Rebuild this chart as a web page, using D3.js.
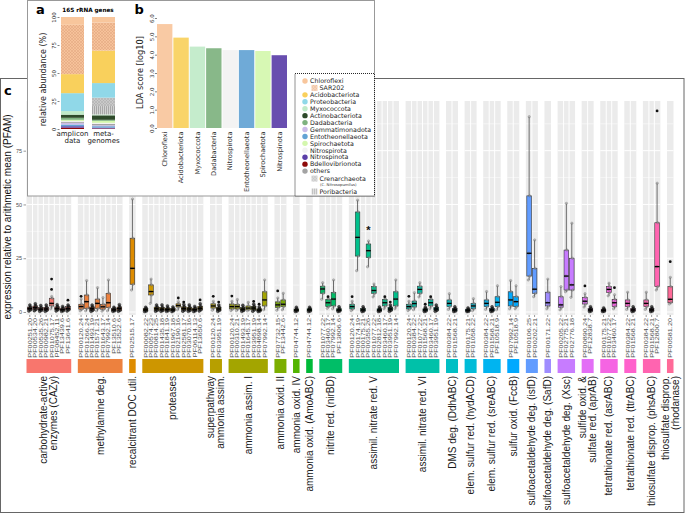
<!DOCTYPE html>
<html><head><meta charset="utf-8">
<script src="https://cdn.jsdelivr.net/npm/d3@7"></script>
<style>body{margin:0;background:#fff;} svg{display:block;}</style>
</head><body>
<svg id="chart" width="685" height="515"></svg>
<script>
// ---------------- DATA ----------------
// Panel a: stacked relative abundance (%) bottom -> top
const taxaOrder = ["Bdellovibrionota","Nitrospinota","Entotheonellaeota","Gemmatimonadota","others","Nitrospirota","Spirochaetota","Dadabacteria","Actinobacteriota","Myxococcota","Poribacteria","Crenarchaeota","Proteobacteria","Acidobacteriota","SAR202","Chloroflexi"];
const samples = ["amplicon","metagenomes"];
const ampliconPct   = [1.2,1.3,1.5,1.5,1.0,0.7,1.0,1.8,2.8,3.2,0,0,16,17,44,7];
const metagenomePct = [0.5,0.7,1.3,0.8,1.2,1.0,1.8,0.9,4.0,0.8,7.5,7.5,13,29,25,5];
const abundTicks = [0,25,50,75,100];

// Panel b: LDA scores
const ldaTaxa   = ["Chloroflexi","Acidobacteriota","Myxococcota","Dadabacteria","Nitrospirota","Entotheonellaeota","Spirochaetota","Nitrospinota"];
const ldaScores = [5.67,4.93,4.44,4.35,4.25,4.25,4.2,3.97];
const ldaTicks  = [0,1,2,3,4,5,6];

const legendTaxa = ["Chloroflexi","SAR202","Acidobacteriota","Proteobacteria","Myxococcota","Actinobacteriota","Dadabacteria","Gemmatimonadota","Entotheonellaeota","Spirochaetota","Nitrospirota","Nitrospinota","Bdellovibrionota","others","Crenarchaeota","Poribacteria"];

// Panel c: facets
const facetLabels = [
 "carbohydrate-active\nenzymes (CAZy)","methylamine deg.","recalcitrant DOC util.","proteases",
 "superpathway\nammonia assim.","ammonia assim. I","ammonia oxid. II","ammonia oxid. IV",
 "ammonia oxid. (AmoABC)","nitrite red. (nirBD)","assimil. nitrate red. V","assimil. nitrate red. VI",
 "DMS deg. (DdhABC)","elem. sulfur red. (hydACD)","elem. sulfur red. (sreABC)","sulfur oxid. (FccB)",
 "sulfoacetaldehyde deg. (isfD)","sulfoacetaldehyde deg. (SafD)","sulfoacetaldehyde deg. (Xsc)",
 "sulfide oxid. &\nsulfate red. (aprAB)","tetrathionate red. (asrABC)","tetrathionate red. (ttrABC)",
 "thiosulfate disprop. (phsABC)","thiosulfate disprop.\n(rhodanase)"];

const facetPfams = [
 ["PF00251.20","PF00534.20","PF00535.26","PF00982.21","PF01075.17","PF08452.11","PF13439.6","PF13641.6"],
 ["PF00120.24","PF01266.24","PF01493.19","PF01571.21","PF01643.17","PF07992.14","PF13510.6","PF13522.6"],
 ["PF02515.17"],
 ["PF00082.22","PF00574.23","PF00814.25","PF01435.18","PF01841.19","PF01967.18","PF02190.16","PF02581.17","PF03070.16","PF06114.13","PF13650.6"],
 ["PF00120.24","PF03951.19"],
 ["PF00120.24","PF00310.21","PF01493.19","PF01645.17","PF03951.19","PF04898.14","PF07992.14"],
 ["PF07732.15","PF13442.6"],
 ["PF04744.12"],
 ["PF04744.12"],
 ["PF01077.22","PF03460.17","PF07992.14","PF13806.6"],
 ["PF00120.24","PF00174.19","PF00175.21","PF00355.26","PF01077.22","PF02812.18","PF03460.17","PF03951.19","PF07992.14"],
 ["PF00120.24","PF00384.22","PF01077.22","PF01568.21","PF03460.17","PF03951.19"],
 ["PF00384.22","PF01568.21"],
 ["PF00175.21","PF01058.22"],
 ["PF00384.22","PF01568.21","PF10518.9"],
 ["PF07992.14","PF10518.9"],
 ["PF00106.25","PF00202.21"],
 ["PF00171.22"],
 ["PF00205.22","PF02775.21","PF02776.18"],
 ["PF00890.24","PF12838.7"],
 ["PF00175.21","PF01077.22","PF03460.17"],
 ["PF00384.22","PF01568.21"],
 ["PF00384.22","PF01568.21","PF12800.7"],
 ["PF00581.20"]];

// box stats per facet: [lower whisker, Q1, median, Q3, upper whisker]
const facetStats = [
 [[0.5,1,1.6,2.3,3.2],[0.6,1.2,2,2.8,3.8],[0.3,0.8,1.3,2,3],[0.3,0.8,1.4,2.2,3.2],[1.5,2.8,4,6.4,7.2],[0.5,1,1.6,2.4,3.4],[0.3,0.6,1.1,1.8,2.6],[0.5,1,1.6,2.5,3.2]],
 [[0.5,1.3,2.5,3.6,6],[0.5,1.7,4.8,7.9,14.6],[0.3,0.8,1.5,2.3,3.2],[0.5,1.7,4,6,11.3],[0.4,1.3,2.4,3.6,6.7],[0.5,2,4.3,8.7,14.9],[0.3,0.6,1,1.6,2.2],[0.4,0.8,1.6,2.3,3.4]],
 [[10.2,12.9,20.3,34.3,52.5]],
 [[0.2,0.5,1,1.6,2.2],[4,7.9,9.5,12.6,15.3],[0.4,0.8,1.5,2.3,3.2],[0.3,0.7,1.3,2.1,3.3],[0.3,0.6,1.2,1.8,2.8],[0.2,0.6,1,1.6,2.3],[1,2.3,3,3.8,4.8],[0.4,0.9,1.6,2.4,3.5],[0.3,0.7,1.4,2.2,3.3],[0.2,0.6,1.1,1.8,2.6],[0.5,1,1.7,2.6,3.8]],
 [[0.8,1.8,2.8,3.8,5],[0.3,0.8,1.4,2.2,3.2]],
 [[0.6,1.4,2.5,3.7,5],[0.6,1.4,2.5,3.5,5.8],[0.3,0.7,1.3,2,3.1],[0.5,1,1.8,2.8,4.5],[0.4,1,1.8,2.6,3.6],[0.2,0.5,0.9,1.5,2.3],[1,2.8,5.6,9.4,14.9]],
 [[0.8,2.1,3.3,4.7,6.5],[1,2.5,3.6,5.6,8.7]],
 [[0.2,0.5,0.9,1.4,2.2]],
 [[0.2,0.5,1,1.5,2.2]],
 [[5.9,8.7,10.7,12,13.6],[1.7,2.5,4.3,5.9,6.5],[1.5,2.8,6,9,14.9],[0.2,0.5,0.9,1.5,2.4]],
 [[0.6,1.4,2.5,3.6,5],[19.2,26,34.7,46.5,52],[0.2,0.5,1,1.6,2.4],[21,25.3,28.5,31.6,33],[7,8.7,10,11.8,13],[0.2,0.5,0.9,1.5,2.3],[1.5,2.8,4.3,5.9,6.5],[0.3,0.8,1.4,2.2,3.2],[1.5,2.8,6,9.4,14.9]],
 [[0.6,1.4,2.5,3.6,5],[1,2.3,3.9,5.1,9],[7,8.7,10.5,12,13.6],[0.2,0.5,1,1.5,2.2],[1.5,2.8,4.3,5.9,6.5],[0.3,0.8,1.4,2.2,3.2]],
 [[1.2,2.5,4,5.6,8.5],[0.2,0.5,1,1.6,2.4]],
 [[0.2,0.4,0.8,1.3,1.9],[0.6,1.5,2.8,4,6.2]],
 [[1.2,2.5,4,5.6,9.5],[0.2,0.5,1,1.6,2.4],[1,2.5,4.5,7.1,12.2]],
 [[1.5,2.8,5.6,9.4,14.6],[1.5,2.5,4.8,7.1,12.2]],
 [[14.9,16.7,27.3,54,90.8],[7.1,8.7,10.6,20.3,33.5]],
 [[1.5,2.8,4.3,9.2,15.3]],
 [[1,2.2,3.3,7.1,11.8],[9.4,10.2,16.7,28.8,50.5],[6.8,10.2,12.6,25,41.3]],
 [[2.3,3.7,5,6.8,8.5],[0.2,0.5,1,1.6,2.4]],
 [[0.2,0.4,0.8,1.3,1.9],[7.5,9,10.5,11.8,13.4],[1.5,2.5,4.3,5.9,8]],
 [[1.2,2.5,4,5.6,9.2],[0.2,0.5,1,1.6,2.4]],
 [[1.2,2.5,4,5.6,9.2],[0.2,0.5,1,1.6,2.4],[10.2,11.8,21.1,41.5,59.9]],
 [[3.7,4.3,5.9,11.8,16.1]]];

// outliers: [facet, item, value]
const outliers = [[0,4,10.5],[0,4,15.3],[0,7,5.5],[1,0,7.3],[3,6,6.5],[3,7,4.6],[3,10,5.6],
 [4,0,7.3],[4,1,4.6],[5,0,7.4],[5,4,4.9],[5,5,3.6],[6,0,9.8],[9,1,7.1],[10,0,7.1],[10,6,7.1],[10,7,4.6],
 [11,0,7.3],[11,3,3.6],[11,4,7.1],[19,0,12.1],[20,2,11.3],[22,2,93.5],[23,0,23.4]];
// significance marks: [facet, item, value]
const asterisks = [[10,3,38]];
const exprTicks = [0,25,50,75];

// ---------------- STYLES ----------------
const facetColors = ["#F8766D","#ED813E","#DE8C00","#CD9600","#B79F00","#A3A500","#7CAE00","#53B400",
 "#00BA38","#00BE67","#00C08B","#00C1A9","#00BFC4","#00BCD8","#00B4F0","#00A9FF","#619CFF","#9F8CFF",
 "#C77CFF","#E36EF6","#F564E3","#FF61CC","#FF64B0","#FF6A98"];
const taxonColor = {Chloroflexi:"#F8C69C",SAR202:"url(#pSAR)",Acidobacteriota:"#F9D05C",Proteobacteria:"#90D8E8",
 Myxococcota:"#C0EAC8",Actinobacteriota:"#2E4A2A",Dadabacteria:"#7EB27F",Gemmatimonadota:"#CBBBE8",
 Entotheonellaeota:"#63A3D4",Spirochaetota:"#D4F7AE",Nitrospirota:"#F2F2F2",Nitrospinota:"#5B3FA8",
 Bdellovibrionota:"#8E0A0A",others:"#A3A3A3",Crenarchaeota:"url(#pCren)",Poribacteria:"url(#pPori)"};

const svg = d3.select("#chart");
const defs = svg.append("defs");
function hatch(id, w, h, bg, paths, stroke, sw){
  const p = defs.append("pattern").attr("id",id).attr("patternUnits","userSpaceOnUse").attr("width",w).attr("height",h);
  p.append("rect").attr("width",w).attr("height",h).attr("fill",bg);
  p.append("path").attr("d",paths).attr("stroke",stroke).attr("stroke-width",sw).attr("fill","none");
}
hatch("pSAR",3,3,"#F6C29A","M0,0L3,3M3,0L0,3","#DDA27A",0.45);
hatch("pCren",3,3,"#C9C9C9","M0,0L3,3M3,0L0,3","#A8A8A8",0.45);
hatch("pPori",2,2,"#D2D2D2","M0.5,0V2","#8C8C8C",0.6);

const sansC = "'Liberation Sans', Arial, sans-serif";
const sansAB = "'DejaVu Sans', sans-serif";

// ---------------- PANEL C ----------------
svg.append("rect").attr("x",0.5).attr("y",78.5).attr("width",683.5).attr("height",434)
  .attr("fill","#fff").attr("stroke","#666").attr("stroke-width",1);

const plotTop = 101, plotBottom = 315, plotLeft = 26.5, plotRight = 673.5, gap = 6.6;
const totalUnits = d3.sum(facetPfams, p => p.length + 0.2);
const unit = (plotRight - plotLeft - gap*(facetPfams.length-1)) / totalUnits;
let cursor = plotLeft;
const facets = facetPfams.map((p,i) => {
  const w = (p.length + 0.2) * unit;
  const sc = d3.scaleLinear().domain([0.4, p.length + 0.6]).range([cursor, cursor + w]);
  const f = {i, x0: cursor, x1: cursor + w, sc, n: p.length};
  cursor += w + gap;
  return f;
});
const y = d3.scaleLinear().domain([-1.4, 98.1]).range([plotBottom, plotTop]);

const gC = svg.append("g");
facets.forEach(f => {
  const g = gC.append("g");
  g.append("rect").attr("x",f.x0).attr("y",plotTop).attr("width",f.x1-f.x0).attr("height",plotBottom-plotTop).attr("fill","#EBEBEB");
  [12.5,37.5,62.5,87.5].forEach(v => g.append("line").attr("x1",f.x0).attr("x2",f.x1).attr("y1",y(v)).attr("y2",y(v)).attr("stroke","#fff").attr("stroke-width",0.5));
  exprTicks.forEach(v => g.append("line").attr("x1",f.x0).attr("x2",f.x1).attr("y1",y(v)).attr("y2",y(v)).attr("stroke","#fff").attr("stroke-width",1));
  for (let k = 1; k < f.n; k++) g.append("line").attr("x1",f.sc(k+0.5)).attr("x2",f.sc(k+0.5)).attr("y1",plotTop).attr("y2",plotBottom).attr("stroke","#fff").attr("stroke-width",1);
});

const bw = unit * 0.85;
const jit = [-0.9, 0.8, -0.4, 0.6, 0.1];
facets.forEach(f => {
  const g = gC.append("g");
  const col = facetColors[f.i];
  facetStats[f.i].forEach((s, j) => {
    const cx = f.sc(j + 1);
    const [lo, q1, med, q3, hi] = s;
    const small = hi < 4;
    g.append("line").attr("x1",cx).attr("x2",cx).attr("y1",y(hi)).attr("y2",y(q3)).attr("stroke","#333").attr("stroke-width",0.7);
    g.append("line").attr("x1",cx).attr("x2",cx).attr("y1",y(q1)).attr("y2",y(lo)).attr("stroke","#333").attr("stroke-width",0.7);
    g.append("rect").attr("x",cx-bw/2).attr("y",y(q3)).attr("width",bw).attr("height",Math.max(0.5,y(q1)-y(q3)))
      .attr("fill",col).attr("stroke","#333").attr("stroke-width",0.6);
    s.forEach((v,k) => g.append("circle").attr("cx",cx+jit[k]).attr("cy",y(v)).attr("r",small ? 1.5 : 1.2)
      .attr("fill",small ? "rgba(30,30,30,0.75)" : "rgba(160,160,160,0.55)")
      .attr("stroke",small ? "rgba(0,0,0,0.8)" : "rgba(70,70,70,0.6)").attr("stroke-width",0.4));
    g.append("line").attr("x1",cx-bw/2).attr("x2",cx+bw/2).attr("y1",y(med)).attr("y2",y(med)).attr("stroke","#000").attr("stroke-width",1.3);
  });
});
outliers.forEach(([fi, j, v]) => {
  gC.append("circle").attr("cx",facets[fi].sc(j+1)).attr("cy",y(v)).attr("r",1.4).attr("fill","#111");
});
asterisks.forEach(([fi, j, v]) => {
  gC.append("text").attr("x",facets[fi].sc(j+1)).attr("y",y(v)+4).attr("text-anchor","middle")
    .attr("font-family",sansC).attr("font-size",11).attr("font-weight","bold").attr("fill","#111").text("*");
});

// y axis
const yAx = svg.append("g").attr("transform",`translate(${plotLeft-0.5},0)`)
  .call(d3.axisLeft(y).tickValues(exprTicks).tickSize(2.5).tickPadding(1.5));
yAx.select(".domain").remove();
yAx.selectAll("line").attr("stroke","#333").attr("stroke-width",0.5);
yAx.selectAll("text").attr("font-family",sansC).attr("font-size",5.5).attr("fill","#4D4D4D");

svg.append("text").attr("transform","translate(7.5,217) rotate(-90)").attr("text-anchor","middle").attr("dy","0.35em")
  .attr("font-family",sansC).attr("font-size",10).attr("fill","#111").text("expression relative to arithmetic mean (PFAM)");
svg.append("text").attr("x",4).attr("y",95).attr("font-family",sansAB).attr("font-weight","bold").attr("font-size",13).text("c");

// x labels, strips, facet labels
facets.forEach(f => {
  facetPfams[f.i].forEach((p, j) => {
    const cx = f.sc(j + 1);
    svg.append("line").attr("x1",cx).attr("x2",cx).attr("y1",plotBottom).attr("y2",plotBottom+2).attr("stroke","#333").attr("stroke-width",0.5);
    svg.append("text").attr("transform",`translate(${cx},318) rotate(-90) scale(1,0.78)`).attr("text-anchor","end").attr("dy","0.35em")
      .attr("font-family",sansC).attr("font-size",7.3).attr("fill","#4D4D4D").text(p);
  });
  svg.append("rect").attr("x",f.x0).attr("y",359).attr("width",f.x1-f.x0).attr("height",14).attr("fill",facetColors[f.i]);
  const lines = facetLabels[f.i].split("\n");
  const cxF = (f.x0 + f.x1) / 2;
  lines.forEach((ln, k) => {
    const off = (k - (lines.length - 1) / 2) * 10;
    svg.append("text").attr("transform",`translate(${cxF+off},376) rotate(-90)`).attr("text-anchor","end").attr("dy","0.35em")
      .attr("font-family",sansC).attr("font-size",10).attr("fill","#1a1a1a").text(ln);
  });
});

// ---------------- PANELS A & B ----------------
const gAB = svg.append("g");
gAB.append("rect").attr("x",27.5).attr("y",0.5).attr("width",347).attr("height",195.5).attr("fill","#fff").attr("stroke","#999").attr("stroke-width",1);

// panel a
gAB.append("text").attr("x",36).attr("y",13.5).attr("font-family",sansAB).attr("font-weight","bold").attr("font-size",13).text("a");
gAB.append("text").attr("x",88).attr("y",11.5).attr("text-anchor","middle").attr("font-family",sansAB).attr("font-weight","bold").attr("font-size",5.7).text("16S rRNA genes");
const yA = d3.scaleLinear().domain([0,100]).range([129,17]);
const xA = d3.scaleBand().domain(samples).range([57,119]).paddingInner(0.258).paddingOuter(0.129);
const table = samples.map((s,k) => { const o = {sample:s}; taxaOrder.forEach((t,i) => o[t] = (k ? metagenomePct : ampliconPct)[i]); return o; });
const series = d3.stack().keys(taxaOrder)(table);
series.forEach(sr => {
  sr.forEach(d => {
    if (d[1] - d[0] <= 0) return;
    gAB.append("rect").attr("x",xA(d.data.sample)).attr("y",yA(d[1])).attr("width",xA.bandwidth()).attr("height",yA(d[0])-yA(d[1]))
      .attr("fill",taxonColor[sr.key]);
  });
});
const yAAx = gAB.append("g").attr("transform","translate(59.5,0)").call(d3.axisLeft(yA).tickValues(abundTicks).tickSize(2));
yAAx.select(".domain").remove();
yAAx.selectAll("line").attr("stroke","#333").attr("stroke-width",0.6);
yAAx.selectAll("text").attr("x",0).attr("y",0).attr("dy",0).attr("text-anchor","middle").attr("transform","translate(-3.5,0) rotate(-90)")
  .attr("font-family",sansAB).attr("font-size",5.5).attr("fill","#333");
gAB.append("text").attr("transform","translate(43,79.5) rotate(-90)").attr("text-anchor","middle").attr("dy","0.35em")
  .attr("font-family",sansAB).attr("font-size",8).attr("fill","#222").text("relative abundance (%)");
const sampleLines = {amplicon:["amplicon","data"], metagenomes:["meta-","genomes"]};
samples.forEach(s => sampleLines[s].forEach((ln,k) => gAB.append("text").attr("x",xA(s)+xA.bandwidth()/2).attr("y",135.5+k*7.3)
  .attr("text-anchor","middle").attr("font-family",sansAB).attr("font-size",7).attr("fill","#222").text(ln)));

// panel b
gAB.append("text").attr("x",134.5).attr("y",13.5).attr("font-family",sansAB).attr("font-weight","bold").attr("font-size",13).text("b");
const xB = d3.scaleBand().domain(ldaTaxa).range([157,287]).paddingInner(0.06).paddingOuter(0);
const yB = d3.scaleLinear().domain([0,6]).range([128,18]);
ldaTaxa.forEach((t,i) => {
  gAB.append("rect").attr("x",xB(t)).attr("y",yB(ldaScores[i])).attr("width",xB.bandwidth()).attr("height",yB(0)-yB(ldaScores[i]))
    .attr("fill",taxonColor[t]).attr("fill-opacity",0.92);
  gAB.append("text").attr("transform",`translate(${xB(t)+xB.bandwidth()/2},131.5) rotate(-90)`).attr("text-anchor","end").attr("dy","0.35em")
    .attr("font-family",sansAB).attr("font-size",6.6).attr("fill","#333").text(t);
});
const yBAx = gAB.append("g").attr("transform","translate(157,0)").call(d3.axisLeft(yB).tickValues(ldaTicks).tickSize(2));
yBAx.select(".domain").remove();
yBAx.selectAll("line").attr("stroke","#333").attr("stroke-width",0.6);
yBAx.selectAll("text").attr("x",0).attr("y",0).attr("dy",0).attr("text-anchor","middle").attr("transform","translate(-3.5,0) rotate(-90)")
  .attr("font-family",sansAB).attr("font-size",5.5).attr("fill","#333");
gAB.append("text").attr("transform","translate(140.5,72.5) rotate(-90)").attr("text-anchor","middle").attr("dy","0.35em")
  .attr("font-family",sansAB).attr("font-size",8.2).attr("fill","#222").text("LDA score [log10]");

// legend
gAB.append("rect").attr("x",295).attr("y",73.5).attr("width",79.5).attr("height",122.5).attr("fill","#fff")
  .attr("stroke","#111").attr("stroke-width",0.9).attr("stroke-dasharray","1,1");
legendTaxa.forEach((t,i) => {
  let ry;
  if (i < 14) ry = 81 + i * 6.93;
  else if (t === "Crenarchaeota") ry = 178.6;
  else ry = 191.5;
  const hatched = (t === "SAR202" || t === "Crenarchaeota" || t === "Poribacteria");
  if (hatched) {
    gAB.append("rect").attr("x",311.5).attr("y",ry-3).attr("width",6).attr("height",6).attr("fill",taxonColor[t]).attr("opacity",0.7);
  } else {
    gAB.append("circle").attr("cx",305).attr("cy",ry).attr("r",2.7).attr("fill",taxonColor[t]);
  }
  gAB.append("text").attr("x",hatched ? 319.5 : 310).attr("y",ry).attr("dy","0.35em")
    .attr("font-family",sansAB).attr("font-size",6.3).attr("fill","#222").text(t);
  if (t === "Crenarchaeota") {
    gAB.append("text").attr("x",320).attr("y",184.6).attr("dy","0.35em")
      .attr("font-family",sansAB).attr("font-size",3.8).attr("fill","#333").text("(C. Nitrosopumilus)");
  }
});
</script></body></html>
